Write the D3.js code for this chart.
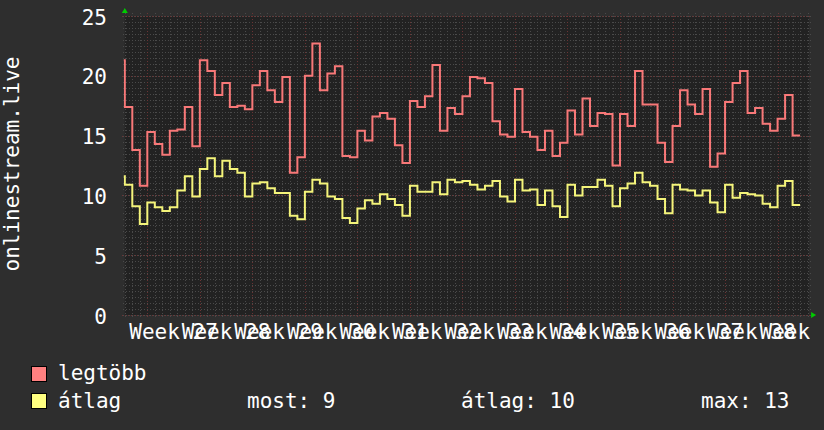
<!DOCTYPE html>
<html>
<head>
<meta charset="utf-8">
<script src="https://cdn.jsdelivr.net/npm/d3@7"></script>
<style>
  body { margin: 0; background: #2e2e2e; }
  svg { display: block; font-family: "DejaVu Sans Mono", monospace; }
</style>
</head>
<body>
<svg id="chart" width="824" height="430"></svg>
<script>
// daily values, first entry is the day before the visible range (Thursday)
const startDay = Date.UTC(2023, 5, 29);
const legtobb = [21.3,
  17.4, 13.8, 10.8, 15.3, 14.3, 13.4, 15.4, 15.5, 17.4, 14.1,
  21.3, 20.4, 18.4, 19.4, 17.4, 17.5, 17.2, 19.2, 20.4, 18.8,
  17.8, 19.9, 11.9, 13.2, 20.0, 22.7, 18.8, 20.2, 20.8, 13.3,
  13.2, 15.4, 14.6, 16.6, 16.9, 16.4, 14.2, 12.7, 17.9, 17.4,
  18.3, 20.9, 15.4, 17.3, 16.8, 18.3, 19.9, 19.8, 19.4, 16.2,
  15.1, 14.9, 18.9, 15.3, 14.9, 13.8, 15.4, 13.3, 14.4, 17.1,
  15.1, 18.1, 15.8, 16.9, 16.8, 12.5, 16.8, 15.8, 20.4, 17.6,
  17.6, 14.4, 12.8, 15.8, 18.8, 17.6, 16.8, 18.9, 12.4, 13.5,
  17.8, 19.4, 20.4, 16.9, 17.3, 16.0, 15.4, 16.4, 18.4, 15.0];
const atlag = [11.6,
  10.9, 9.1, 7.6, 9.4, 9.0, 8.7, 9.0, 10.4, 11.6, 9.9,
  12.2, 13.1, 11.6, 12.9, 12.2, 11.9, 9.9, 11.0, 11.1, 10.6,
  10.2, 10.2, 8.3, 8.0, 10.3, 11.3, 11.0, 9.9, 9.7, 8.1,
  7.7, 8.9, 9.6, 9.3, 10.1, 9.7, 9.2, 8.3, 10.8, 10.3,
  10.3, 11.1, 10.1, 11.3, 11.1, 11.2, 10.9, 10.5, 10.8, 11.2,
  9.9, 9.5, 11.3, 10.4, 10.5, 9.2, 10.4, 9.1, 8.2, 10.9,
  10.0, 10.7, 10.7, 11.3, 10.8, 9.1, 10.6, 11.0, 11.9, 11.1,
  10.8, 9.7, 8.5, 10.9, 10.5, 10.4, 10.0, 10.4, 9.4, 8.6,
  10.9, 9.8, 10.2, 10.1, 10.0, 9.3, 9.0, 10.8, 11.2, 9.2];
const yTicks = [0, 5, 10, 15, 20, 25];
const legendLabels = ['legtöbb', 'átlag'];
const legendStats = ['most: 9', 'átlag: 10', 'max: 13'];
const colors = ['#f87878', '#f4f47a'];
const swatchColors = ['#ff8080', '#ffff80'];

const DAY = 86400000;
const t0 = new Date(startDay + DAY);
const t1 = new Date(startDay + DAY + 91.2 * DAY);
const plotL = 124.8, plotR = 809.1, plotT = 16, plotB = 315;
const fontSize = 21;

const svg = d3.select('#chart');
const x = d3.scaleUtc().domain([t0, t1]).range([plotL, plotR]);
const y = d3.scaleLinear().domain([0, 25]).range([plotB, plotT]);

svg.append('rect')
  .attr('x', plotL).attr('y', plotT)
  .attr('width', plotR - plotL).attr('height', plotB - plotT)
  .attr('fill', '#222222');

// grid
const days = d3.utcDay.range(t0, t1);
const mondays = d3.utcMonday.range(t0, t1);
const minorY = d3.range(0, 25.01, 0.5);

const grid = svg.append('g').attr('shape-rendering', 'crispEdges');
grid.selectAll('.hmin').data(minorY).enter().append('line')
  .attr('x1', plotL - 2).attr('x2', plotR + 2)
  .attr('y1', d => Math.round(y(d)) + 0.5).attr('y2', d => Math.round(y(d)) + 0.5)
  .attr('stroke', '#4a4a4a').attr('stroke-dasharray', '1,2');
grid.selectAll('.vmin').data(days).enter().append('line')
  .attr('y1', plotT - 3).attr('y2', plotB + 2)
  .attr('x1', d => Math.round(x(d)) + 0.5).attr('x2', d => Math.round(x(d)) + 0.5)
  .attr('stroke', '#4a4a4a').attr('stroke-dasharray', '1,2');
grid.selectAll('.hmaj').data(yTicks).enter().append('line')
  .attr('x1', plotL - 3).attr('x2', plotR + 3)
  .attr('y1', d => Math.round(y(d)) + 0.5).attr('y2', d => Math.round(y(d)) + 0.5)
  .attr('stroke', '#6a3434').attr('stroke-dasharray', '1,2');
grid.selectAll('.vmaj').data(mondays).enter().append('line')
  .attr('y1', plotT - 3).attr('y2', plotB + 3)
  .attr('x1', d => Math.round(x(d)) + 0.5).attr('x2', d => Math.round(x(d)) + 0.5)
  .attr('stroke', '#6a3434').attr('stroke-dasharray', '1,2');

// y tick labels
svg.append('g').selectAll('text').data(yTicks).enter().append('text')
  .attr('x', 107).attr('y', d => y(d) + 8.5)
  .attr('text-anchor', 'end')
  .attr('fill', '#ffffff').attr('font-size', fontSize)
  .text(d => d);

// week labels, centred on the week, clipped at the plot edge
svg.append('clipPath').attr('id', 'labclip')
  .append('rect').attr('x', 0).attr('y', 0).attr('width', plotR + 1).attr('height', 430);
const fmtWeek = d3.utcFormat('%V');
svg.append('g').attr('clip-path', 'url(#labclip)')
  .selectAll('text').data(mondays).enter().append('text')
  .attr('x', d => x(new Date(+d + 3.5 * DAY)))
  .attr('y', 339)
  .attr('text-anchor', 'middle')
  .attr('fill', '#ffffff').attr('font-size', fontSize)
  .text(d => 'Week ' + fmtWeek(d));

// y title
svg.append('text')
  .attr('transform', 'translate(18.5,164) rotate(-90)')
  .attr('text-anchor', 'middle')
  .attr('fill', '#ffffff').attr('font-size', fontSize)
  .text('onlinestream.live');

// lines
svg.append('clipPath').attr('id', 'plotclip')
  .append('rect').attr('x', plotL - 1).attr('y', 0)
  .attr('width', plotR - plotL + 1).attr('height', plotB + 2);

const line = d3.line()
  .x(d => x(d.t))
  .y(d => y(d.v))
  .curve(d3.curveStepAfter);

[legtobb, atlag].forEach((vals, k) => {
  const pts = vals.map((v, i) => ({ t: new Date(startDay + i * DAY), v: v }));
  pts.push({ t: new Date(startDay + vals.length * DAY), v: vals[vals.length - 1] });
  svg.append('path')
    .datum(pts)
    .attr('clip-path', 'url(#plotclip)')
    .attr('fill', 'none')
    .attr('stroke', colors[k])
    .attr('stroke-width', 2)
    .attr('d', line);
});

// axis arrows
const ax = x.range()[0], ay = y.range()[1];
svg.append('path')
  .attr('d', `M${ax - 3},${ay - 3}L${ax + 3},${ay - 3}L${ax},${ay - 8}Z`)
  .attr('fill', '#00cc00');
const bx = x.range()[1], by = y.range()[0];
svg.append('path')
  .attr('d', `M${bx + 2},${by - 3}L${bx + 2},${by + 3}L${bx + 7},${by}Z`)
  .attr('fill', '#00cc00');

// legend
const legend = svg.append('g');
legendLabels.forEach((lab, i) => {
  legend.append('rect')
    .attr('x', 31.5).attr('y', 366.5 + i * 27)
    .attr('width', 15).attr('height', 15)
    .attr('fill', swatchColors[i]).attr('stroke', '#000000');
  legend.append('text')
    .attr('x', 58).attr('y', 380 + i * 27.5)
    .attr('fill', '#ffffff').attr('font-size', fontSize)
    .text(lab);
});
const statX = [247, 461, 701];
legendStats.forEach((s, i) => {
  legend.append('text')
    .attr('x', statX[i]).attr('y', 407.5)
    .attr('fill', '#ffffff').attr('font-size', fontSize)
    .text(s);
});
</script>
</body>
</html>
